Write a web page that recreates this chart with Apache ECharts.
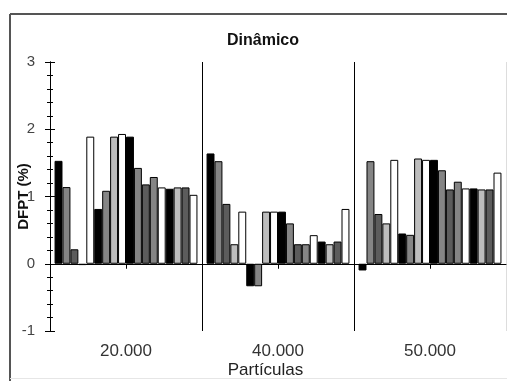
<!DOCTYPE html>
<html>
<head>
<meta charset="utf-8">
<script src="https://cdn.jsdelivr.net/npm/echarts@6/dist/echarts.min.js"></script>
<style>
  html, body { margin: 0; padding: 0; background: #fff; }
  #chart { width: 507px; height: 381px; }
</style>
</head>
<body>
<div id="chart"></div>
<script>
var categories = ['20.000', '40.000', '50.000'];

// 18 bars per group, left to right
var group20 = [1.53, 1.14, 0.215, -0.02, 1.89, 0.815, 1.085, 1.89, 1.93, 1.89, 1.425, 1.18, 1.29, 1.135, 1.115, 1.135, 1.135, 1.025];
var group40 = [1.64, 1.525, 0.89, 0.29, 0.775, -0.335, -0.335, 0.775, 0.775, 0.775, 0.6, 0.29, 0.29, 0.425, 0.33, 0.29, 0.33, 0.815];
var group50 = [-0.1, 1.525, 0.74, 0.6, 1.545, 0.45, 0.43, 1.565, 1.545, 1.545, 1.39, 1.105, 1.22, 1.12, 1.12, 1.105, 1.105, 1.355];

var yTicks = [-1, 0, 1, 2, 3];

var K = '#000000', G = '#858585', D = '#5c5c5c', L = '#bdbdbd', W = '#ffffff';
var barColors = [K, G, D, L, W, K, G, L, W, K, G, D, G, W, K, L, D, W];

var dom = document.getElementById('chart');
var chart = echarts.init(dom, null, {renderer: 'canvas'});
var font = '"Liberation Sans", Arial, sans-serif';

var series = [];
for (var i = 0; i < group20.length; i++) {
  series.push({
    type: 'bar',
    xAxisIndex: 0,
    yAxisIndex: 0,
    barGap: '0%',
    barCategoryGap: '6%',
    itemStyle: {color: barColors[i], borderColor: '#000', borderWidth: 1},
    data: [group20[i], group40[i], group50[i]]
  });
}

var yCommon = {
  type: 'value',
  min: yTicks[0],
  max: yTicks[yTicks.length - 1],
  interval: 1,
  position: 'left',
  splitLine: {show: false},
  axisLine: {show: true, lineStyle: {color: '#000', width: 1}},
  minorTick: {show: true, splitNumber: 5, length: 3, lineStyle: {color: '#000'}},
  minorSplitLine: {show: false}
};

var option = {
  animation: false,
  backgroundColor: '#fff',
  title: {
    text: 'Dinâmico',
    left: 222,
    top: 28,
    textStyle: {fontFamily: font, fontSize: 16, fontWeight: 'bold', color: '#111'}
  },
  grid: {left: 50, right: 1, top: 62, bottom: 50, containLabel: false, outerBoundsMode: 'none'},
  xAxis: [{
    type: 'category',
    data: categories,
    position: 'bottom',
    axisLine: {show: true, onZero: true, lineStyle: {color: '#000', width: 1}},
    axisTick: {show: true, alignWithLabel: true, length: 5, lineStyle: {color: '#000'}},
    axisLabel: {show: false},
    splitLine: {show: false}
  }, {
    type: 'category',
    data: categories,
    position: 'bottom',
    axisLine: {show: false, onZero: false},
    axisTick: {show: false},
    axisLabel: {show: true, margin: 12, fontFamily: font, fontSize: 17, color: '#333'},
    splitLine: {show: true, lineStyle: {color: ['#000', '#000', '#000', '#dddddd'], width: 1}},
    name: 'Partículas',
    nameLocation: 'middle',
    nameGap: 31,
    nameMoveOverlap: false,
    nameTextStyle: {fontFamily: font, fontSize: 17, color: '#222', padding: [0, 25, 0, 0]}
  }],
  yAxis: [Object.assign({}, yCommon, {
    axisTick: {show: true, inside: false, length: 5, lineStyle: {color: '#000'}},
    axisLabel: {show: true, margin: 15, fontFamily: font, fontSize: 15, color: '#444'},
    name: 'DFPT (%)',
    nameLocation: 'middle',
    nameGap: 19,
    nameMoveOverlap: false,
    nameTextStyle: {fontFamily: font, fontSize: 15, fontWeight: 'bold', color: '#111'}
  }), Object.assign({}, yCommon, {
    axisTick: {show: true, inside: true, length: 5, lineStyle: {color: '#000'}},
    axisLabel: {show: false}
  })],
  graphic: [
    {type: 'line', shape: {x1: 10, y1: 14, x2: 507, y2: 14}, style: {stroke: '#555', lineWidth: 2}},
    {type: 'line', shape: {x1: 10, y1: 14, x2: 10, y2: 381}, style: {stroke: '#555', lineWidth: 2}},
    {type: 'line', shape: {x1: 10, y1: 378.5, x2: 507, y2: 378.5}, style: {stroke: '#e6e6e6', lineWidth: 1}}
  ],
  series: series
};

chart.setOption(option);
</script>
</body>
</html>
